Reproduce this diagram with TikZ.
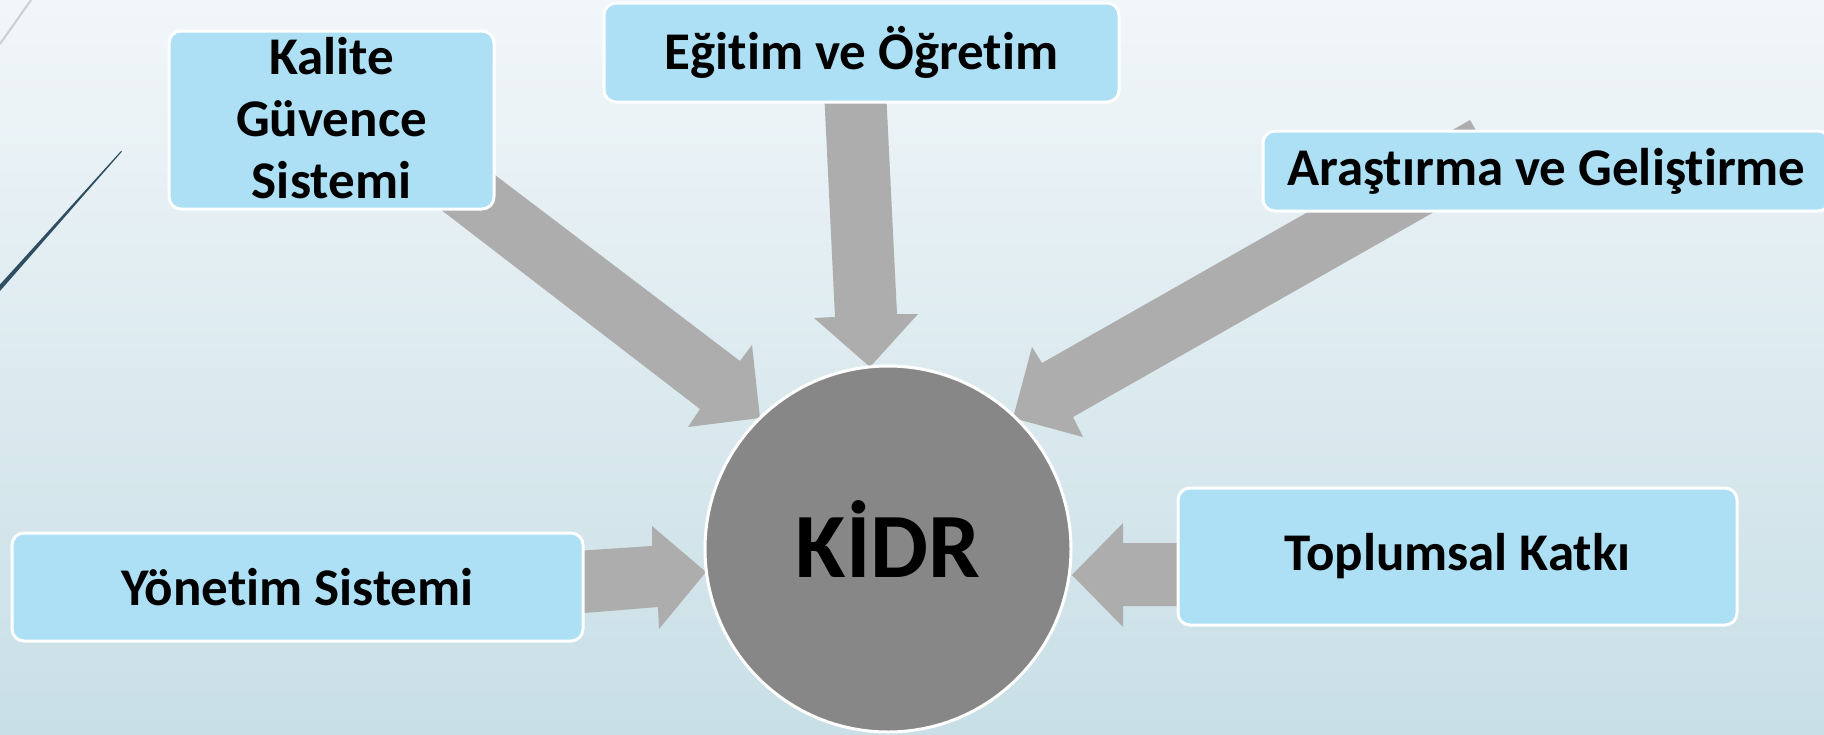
\documentclass[tikz,border=0pt]{standalone}
\usepackage{fontspec}
\setmainfont{Carlito}[Ligatures=NoCommon]
\definecolor{bgtop}{RGB}{241,246,249}
\definecolor{bgbot}{RGB}{200,223,230}
\definecolor{boxblue}{RGB}{173,224,244}
\definecolor{arrowgray}{RGB}{173,173,173}
\definecolor{circgray}{RGB}{135,135,135}
\definecolor{navyline}{RGB}{47,78,98}
\definecolor{paleline}{RGB}{200,208,212}
\tikzset{
  topic/.style={rectangle, rounded corners=12pt, fill=boxblue, draw=white, line width=3pt,
    inner sep=0pt, font=\fontsize{53}{62}\selectfont\bfseries, align=center, text=black},
  blockarrow/.style={fill=arrowgray, draw=none},
  hub/.style={circle, fill=circgray, draw=white, line width=3pt, inner sep=0pt,
    minimum size=366pt, font=\fontsize{92}{100}\selectfont\bfseries, text=black}
}
\begin{document}
\begin{tikzpicture}[x=1pt, y=-1pt]
\clip (0,0) rectangle (1824,734);
\shade[top color=bgtop, bottom color=bgbot] (0,0) rectangle (1824,734);
% decorative lines
\draw[paleline, line width=2pt] (0,44) -- (31,0);
\fill[navyline] (0,284.5) -- (121,151) -- (122,151.5) -- (0,291) -- cycle;
% block arrows
\fill[blockarrow] (470,156) -- (740,361) -- (752,345) -- (760,418) -- (688,427) -- (700,409) -- (414,189) -- cycle;
\fill[blockarrow] (824,90) -- (835,317) -- (814,318) -- (870,367) -- (918,314) -- (897,314) -- (886,90) -- cycle;
\fill[blockarrow] (1470,120) -- (1042,363) -- (1032,347) -- (1013,418) -- (1083,437) -- (1073,417) -- (1501,174) -- cycle;
\fill[blockarrow] (560,552) -- (652,546) -- (652,526) -- (706,572) -- (659,629) -- (658,607) -- (560,615) -- cycle;
\fill[blockarrow] (1200,543) -- (1123,543) -- (1123,523) -- (1072,575) -- (1123,627) -- (1123,606) -- (1200,606) -- cycle;
% hub
\node[hub] (kidr) at (888,549) {\smash{\raisebox{-28pt}{KİDR}}};
% topic boxes
\node[topic, minimum width=325pt, minimum height=178pt] (kg) at (331.5,120)
  {\smash{\raisebox{46pt}{\parbox[t]{300pt}{\centering Kalite\\Güvence\\Sistemi}}}};
\node[topic, minimum width=515pt, minimum height=99pt] (eo) at (861.5,52.5) {Eğitim ve Öğretim};
\node[topic, minimum width=567pt, minimum height=80pt] (ag) at (1546.5,171) {Araştırma ve Geliştirme};
\node[topic, minimum width=571pt, minimum height=108pt] (ys) at (297.5,587) {Yönetim Sistemi};
\node[topic, minimum width=559pt, minimum height=137pt] (tk) at (1457.5,556.5) {Toplumsal Katkı};
\end{tikzpicture}
\end{document}
